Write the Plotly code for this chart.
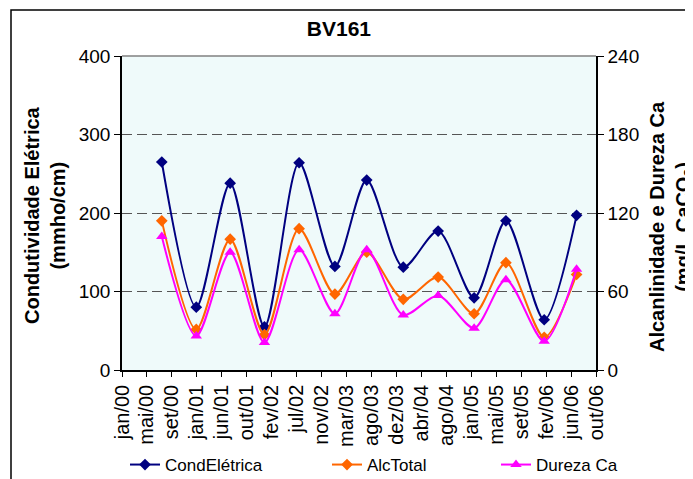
import plotly.graph_objects as go

# ---- data ----
sample_dates = ["2000-07-28", "2001-01-25", "2001-07-22", "2002-01-18", "2002-07-19",
                "2003-01-23", "2003-07-09", "2004-01-17", "2004-07-18", "2005-01-23",
                "2005-07-09", "2006-01-26", "2006-07-15"]
cond_eletrica = [265, 80, 238, 55, 264, 132, 242, 131, 177, 92, 190, 64, 197]
alc_total = [114, 31, 100, 27, 108, 58, 90, 54, 71, 43, 82, 25, 73]
dureza_ca = [102, 26, 90, 21, 92, 43, 92, 42, 57, 32, 69, 22, 77]

tick_dates = ["2000-01-01", "2000-05-11", "2000-09-19", "2001-01-28", "2001-06-08",
              "2001-10-17", "2002-02-25", "2002-07-06", "2002-11-14", "2003-03-25",
              "2003-08-03", "2003-12-12", "2004-04-21", "2004-08-30", "2005-01-08",
              "2005-05-19", "2005-09-27", "2006-02-05", "2006-06-16", "2006-10-25"]
tick_labels = ["jan/00", "mai/00", "set/00", "jan/01", "jun/01", "out/01", "fev/02",
               "jul/02", "nov/02", "mar/03", "ago/03", "dez/03", "abr/04", "ago/04",
               "jan/05", "mai/05", "set/05", "fev/06", "jun/06", "out/06"]

FONT = "Arial, Liberation Sans, sans-serif"

# page has an 8px body margin; work in page pixels and convert
OFF = 8
W, H = 693 - OFF, 479 - OFF
PL, PR, PT, PB = 122, 596, 56, 370  # plot area in page pixels
L, R, T, B = PL - OFF, W - (PR - OFF), PT - OFF, H - (PB - OFF)
pw, ph = PR - PL, PB - PT

def px(x):
    return (x - PL) / pw

def py(y):
    return (PB - y) / ph

fig = go.Figure()
fig.add_trace(go.Scatter(x=sample_dates, y=cond_eletrica, name="CondElétrica",
                         mode="lines+markers", line=dict(color="#000080", width=2, shape="spline", smoothing=0.8),
                         marker=dict(symbol="diamond", size=9, color="#000080"), legend="legend"))
fig.add_trace(go.Scatter(x=sample_dates, y=alc_total, name="AlcTotal", yaxis="y2",
                         mode="lines+markers", line=dict(color="#FF6600", width=2, shape="spline", smoothing=0.8),
                         marker=dict(symbol="diamond", size=9, color="#FF6600"), legend="legend2"))
fig.add_trace(go.Scatter(x=sample_dates, y=dureza_ca, name="Dureza Ca", yaxis="y2",
                         mode="lines+markers", line=dict(color="#FF00FF", width=2, shape="spline", smoothing=0.8),
                         marker=dict(symbol="triangle-up", size=10, color="#FF00FF"), legend="legend3"))

legend_common = dict(orientation="h", bgcolor="rgba(0,0,0,0)", borderwidth=0,
                     font=dict(family=FONT, size=17, color="#000000"),
                     xanchor="left", yanchor="middle", itemclick=False)

fig.update_layout(
    width=W, height=H,
    margin=dict(l=L, r=R, t=T, b=B, autoexpand=False),
    paper_bgcolor="white",
    plot_bgcolor="#EFFAFA",
    font=dict(family=FONT, size=18, color="#000000"),
    title=dict(text="<b>BV161</b>", x=px(351), xanchor="center", y=1 - (29 - OFF) / H, yanchor="middle",
               font=dict(family=FONT, size=21, color="#000000")),
    xaxis=dict(type="date", range=[tick_dates[0], tick_dates[-1]],
               tickmode="array", tickvals=tick_dates, ticktext=tick_labels,
               tickangle=-90, ticks="outside", ticklen=5, tickcolor="#000000",
               showline=True, linecolor="#000000", linewidth=1.5,
               showgrid=False, zeroline=False, automargin=False,
               tickfont=dict(family=FONT, size=20)),
    yaxis=dict(range=[0, 400], dtick=100, ticks="outside", ticklen=6, tickcolor="#000000",
               showline=True, linecolor="#000000", linewidth=1.5,
               showgrid=True, gridcolor="#555555", griddash="10px,5px", gridwidth=1,
               zeroline=False, automargin=False, tickfont=dict(family=FONT, size=19)),
    yaxis2=dict(range=[0, 240], dtick=60, overlaying="y", side="right",
                ticks="outside", ticklen=6, tickcolor="#000000",
                showline=True, linecolor="#000000", linewidth=1.5,
                showgrid=False, zeroline=False, automargin=False, tickfont=dict(family=FONT, size=19)),
    legend=dict(x=px(125), y=py(465), **legend_common),
    legend2=dict(x=px(327), y=py(465), **legend_common),
    legend3=dict(x=px(496), y=py(465), **legend_common),
    showlegend=True,
)

# axis titles
fig.add_annotation(text="<b>Condutividade Elétrica<br>(mmho/cm)</b>", textangle=-90,
                   x=px(45), y=py(215), xref="paper", yref="paper", showarrow=False,
                   xanchor="center", yanchor="middle",
                   font=dict(family=FONT, size=20, color="#000000"))
fig.add_annotation(text="<b>Alcanlinidade e Dureza Ca<br>(mg/L CaCO<sub>3</sub>)</b>", textangle=-90,
                   x=px(671), y=py(227), xref="paper", yref="paper", showarrow=False,
                   xanchor="center", yanchor="middle",
                   font=dict(family=FONT, size=20, color="#000000"))

# plot area top border (gray) and outer chart border
fig.add_shape(type="line", xref="paper", yref="paper", x0=0, x1=1, y0=1, y1=1,
              line=dict(color="#808080", width=1.5))
fig.add_shape(type="rect", xref="paper", yref="paper", x0=px(11), x1=px(720), y0=py(520), y1=py(10),
              line=dict(color="#000000", width=1.5), fillcolor="rgba(0,0,0,0)", layer="below")

fig.write_html("out.html")
